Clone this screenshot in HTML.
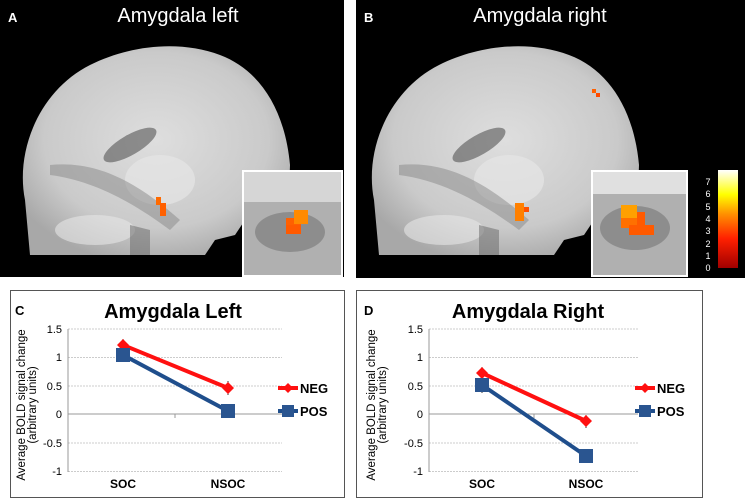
<!DOCTYPE html>
<html><head><meta charset="utf-8"><style>body{margin:0;background:#fff}svg{display:block}text{font-family:"Liberation Sans",Arial,sans-serif}</style></head><body>
<svg width="745" height="498" viewBox="0 0 745 498" xmlns="http://www.w3.org/2000/svg">
<defs>
<radialGradient id="bg" cx="0.5" cy="0.45" r="0.6"><stop offset="0" stop-color="#dedede"/><stop offset="0.7" stop-color="#cacaca"/><stop offset="1" stop-color="#a8a8a8"/></radialGradient>
<linearGradient id="cb" x1="0" y1="1" x2="0" y2="0"><stop offset="0" stop-color="#a00000"/><stop offset="0.3" stop-color="#ff2000"/><stop offset="0.55" stop-color="#ff9000"/><stop offset="0.75" stop-color="#ffff00"/><stop offset="1" stop-color="#ffffff"/></linearGradient>
<g id="brain">
<path d="M30,255 L25,200 C15,150 40,90 90,65 C130,45 180,40 220,55 C260,70 285,110 290,165 L288,218 L245,220 L235,235 L215,240 L205,255 Z" fill="url(#bg)"/>
<ellipse cx="130" cy="145" rx="30" ry="10" fill="#555" opacity="0.6" transform="rotate(-30 130 145)"/>
<ellipse cx="160" cy="180" rx="35" ry="25" fill="#e6e6e6" opacity="0.7"/>
<path d="M50,165 C100,160 140,185 180,220 L170,230 C130,200 90,180 50,175Z" fill="#888" opacity="0.5"/>
<ellipse cx="95" cy="230" rx="40" ry="15" fill="#e6e6e6" opacity="0.6"/>
<path d="M130,225 L150,230 L150,255 L130,255Z" fill="#666" opacity="0.5"/>
</g>
</defs>
<rect x="0" y="0" width="344" height="277" fill="#000"/>
<use href="#brain"/>
<rect x="156" y="197" width="5" height="8" fill="#ff6a00"/><rect x="160" y="203" width="6" height="13" fill="#ff6000"/>
<rect x="243" y="171" width="99" height="105" fill="#b0b0b0" stroke="#fff" stroke-width="2"/>
<rect x="244" y="172" width="97" height="30" fill="#d6d6d6"/>
<ellipse cx="290" cy="232" rx="35" ry="20" fill="#777" opacity="0.6"/>
<rect x="286" y="218" width="15" height="15" fill="#ff6000"/><rect x="294" y="210" width="14" height="14" fill="#ff8a00"/><rect x="286" y="225" width="15" height="9" fill="#ff5a00"/>
<text x="8" y="22" fill="#fff" font-size="13" font-weight="bold">A</text>
<text x="178" y="22" fill="#fff" font-size="20" text-anchor="middle">Amygdala left</text>
<rect x="356" y="0" width="389" height="278" fill="#000"/>
<use href="#brain" transform="translate(349,0)"/>
<rect x="515" y="203" width="9" height="18" fill="#ff8000"/><rect x="524" y="207" width="5" height="5" fill="#ff5000"/>
<rect x="592" y="89" width="4" height="4" fill="#ff6000"/><rect x="596" y="93" width="4" height="4" fill="#ff4a00"/>
<rect x="592" y="171" width="95" height="105" fill="#b0b0b0" stroke="#fff" stroke-width="2"/>
<rect x="593" y="172" width="93" height="22" fill="#e0e0e0"/>
<ellipse cx="635" cy="228" rx="35" ry="22" fill="#777" opacity="0.6"/>
<rect x="621" y="205" width="16" height="20" fill="#ffa000"/><rect x="621" y="218" width="22" height="10" fill="#ff7000"/><rect x="629" y="225" width="25" height="10" fill="#ff5a00"/><rect x="637" y="212" width="8" height="15" fill="#ff5a00"/>
<rect x="718" y="170" width="20" height="98" fill="url(#cb)"/>
<g fill="#fff" font-size="9" text-anchor="middle">
<text x="708" y="185">7</text><text x="708" y="197">6</text><text x="708" y="210">5</text><text x="708" y="222">4</text><text x="708" y="234">3</text><text x="708" y="247">2</text><text x="708" y="259">1</text><text x="708" y="271">0</text></g>
<text x="364" y="22" fill="#fff" font-size="13" font-weight="bold">B</text>
<text x="540" y="22" fill="#fff" font-size="20" text-anchor="middle">Amygdala right</text>

<rect x="10.5" y="290.5" width="334" height="207" fill="#fff" stroke="#555"/>
<text x="15" y="315" font-size="13" font-weight="bold">C</text>
<text x="173" y="318" font-size="20" font-weight="bold" text-anchor="middle">Amygdala Left</text>
<g stroke="#ccc" stroke-dasharray="2,1"><line x1="68" x2="282" y1="329" y2="329"/><line x1="68" x2="282" y1="357.5" y2="357.5"/><line x1="68" x2="282" y1="386" y2="386"/><line x1="68" x2="282" y1="443" y2="443"/><line x1="68" x2="282" y1="471.5" y2="471.5"/></g>
<line x1="68" x2="68" y1="329" y2="472" stroke="#999"/><line x1="68" x2="282" y1="414" y2="414" stroke="#999"/><line x1="175" x2="175" y1="414" y2="418" stroke="#999"/>
<g font-size="11" text-anchor="end"><text x="62" y="333">1.5</text><text x="62" y="361">1</text><text x="62" y="390">0.5</text><text x="62" y="418">0</text><text x="62" y="447">-0.5</text><text x="62" y="475">-1</text></g>
<text x="123" y="488" font-size="12" font-weight="bold" text-anchor="middle">SOC</text><text x="228" y="488" font-size="12" font-weight="bold" text-anchor="middle">NSOC</text>
<g transform="translate(25,405) rotate(-90)" font-size="11.5" text-anchor="middle"><text y="0">Average BOLD signal change</text><text y="11">(arbitrary units)</text></g>
<g stroke="#333"><line x1="123" x2="123" y1="339" y2="351"/><line x1="228" x2="228" y1="381" y2="395"/><line x1="123" x2="123" y1="349" y2="362"/><line x1="228" x2="228" y1="405" y2="417"/></g>
<polyline points="123,345 228,388" stroke="#ff1010" stroke-width="4" fill="none"/>
<polyline points="123,355 228,411" stroke="#1f4e8c" stroke-width="4" fill="none"/>
<path d="M123,339 L129,345 L123,351 L117,345Z M228,382 L234,388 L228,394 L222,388Z" fill="#ff1010"/>
<rect x="116" y="348" width="14" height="14" fill="#2a5590"/><rect x="221" y="404" width="14" height="14" fill="#2a5590"/>
<line x1="278" x2="298" y1="388" y2="388" stroke="#ff1010" stroke-width="4"/><path d="M288,383 L293,388 L288,393 L283,388Z" fill="#ff1010"/>
<line x1="278" x2="298" y1="411" y2="411" stroke="#1f4e8c" stroke-width="4"/><rect x="282" y="405" width="12" height="12" fill="#2a5590"/>
<text x="300" y="393" font-size="13" font-weight="bold">NEG</text><text x="300" y="416" font-size="13" font-weight="bold">POS</text>

<rect x="356.5" y="290.5" width="346" height="207" fill="#fff" stroke="#555"/>
<text x="364" y="315" font-size="13" font-weight="bold">D</text>
<text x="528" y="318" font-size="20" font-weight="bold" text-anchor="middle">Amygdala Right</text>
<g stroke="#ccc" stroke-dasharray="2,1"><line x1="429" x2="638" y1="329" y2="329"/><line x1="429" x2="638" y1="357.5" y2="357.5"/><line x1="429" x2="638" y1="386" y2="386"/><line x1="429" x2="638" y1="443" y2="443"/><line x1="429" x2="638" y1="471.5" y2="471.5"/></g>
<line x1="429" x2="429" y1="329" y2="472" stroke="#999"/><line x1="429" x2="638" y1="414" y2="414" stroke="#999"/><line x1="534" x2="534" y1="414" y2="418" stroke="#999"/>
<g font-size="11" text-anchor="end"><text x="423" y="333">1.5</text><text x="423" y="361">1</text><text x="423" y="390">0.5</text><text x="423" y="418">0</text><text x="423" y="447">-0.5</text><text x="423" y="475">-1</text></g>
<text x="482" y="488" font-size="12" font-weight="bold" text-anchor="middle">SOC</text><text x="586" y="488" font-size="12" font-weight="bold" text-anchor="middle">NSOC</text>
<g transform="translate(375,405) rotate(-90)" font-size="11.5" text-anchor="middle"><text y="0">Average BOLD signal change</text><text y="11">(arbitrary units)</text></g>
<g stroke="#333"><line x1="482" x2="482" y1="367" y2="380"/><line x1="586" x2="586" y1="415" y2="428"/><line x1="482" x2="482" y1="378" y2="393"/><line x1="586" x2="586" y1="449" y2="462"/></g>
<polyline points="482,373 586,421" stroke="#ff1010" stroke-width="4" fill="none"/>
<polyline points="482,385 586,456" stroke="#1f4e8c" stroke-width="4" fill="none"/>
<path d="M482,367 L488,373 L482,379 L476,373Z M586,415 L592,421 L586,427 L580,421Z" fill="#ff1010"/>
<rect x="475" y="378" width="14" height="14" fill="#2a5590"/><rect x="579" y="449" width="14" height="14" fill="#2a5590"/>
<line x1="635" x2="655" y1="388" y2="388" stroke="#ff1010" stroke-width="4"/><path d="M645,383 L650,388 L645,393 L640,388Z" fill="#ff1010"/>
<line x1="635" x2="655" y1="411" y2="411" stroke="#1f4e8c" stroke-width="4"/><rect x="639" y="405" width="12" height="12" fill="#2a5590"/>
<text x="657" y="393" font-size="13" font-weight="bold">NEG</text><text x="657" y="416" font-size="13" font-weight="bold">POS</text>
</svg>
</body></html>
